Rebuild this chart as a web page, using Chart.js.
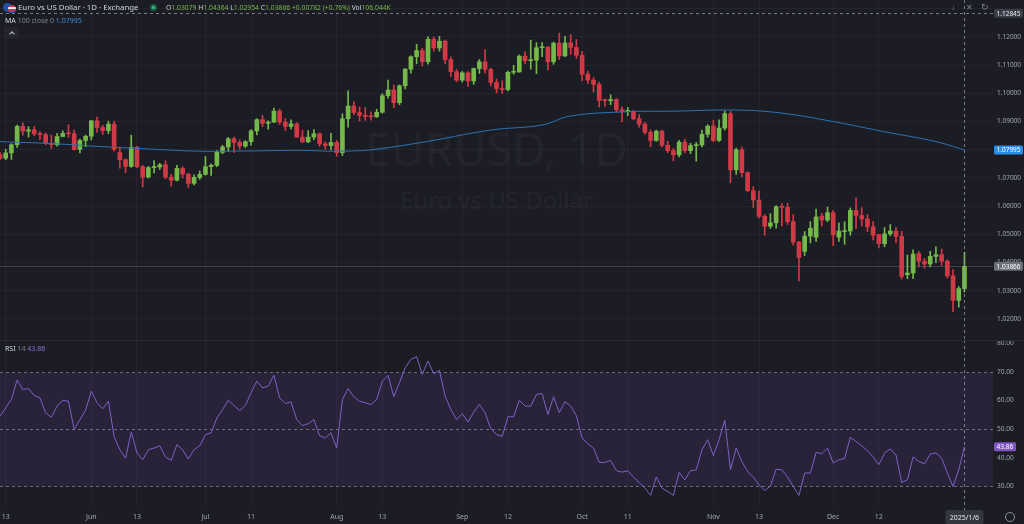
<!DOCTYPE html>
<html>
<head>
<meta charset="utf-8">
<script src="https://cdn.jsdelivr.net/npm/chart.js@4.4.1/dist/chart.umd.min.js"></script>
<style>
html, body { margin: 0; padding: 0; background: #1c1c25; overflow: hidden; }
#wrap { position: relative; width: 1024px; height: 524px; font-family: "Noto Sans", sans-serif; }
#priceBox { position: absolute; left: 0; top: 0; width: 1024px; height: 340px; }
#rsiBox { position: absolute; left: 0; top: 340px; width: 1024px; height: 184px; }
.wm { position: absolute; left: 0; width: 993px; text-align: center; color: rgba(255,255,255,0.055); white-space: nowrap; }
.hdr { position: absolute; white-space: nowrap; line-height: 1; }
.w { color: #d1d4dc; }
.g { color: #7f828c; }
.up { color: #74b94a; }
</style>
</head>
<body>
<div id="wrap">
    <div class="wm" style="top:117px;font-size:46px;">EURUSD, 1D</div>
    <div class="wm" style="top:183px;font-size:24px;">Euro vs US Dollar</div>
    <div id="priceBox"><canvas id="price"></canvas></div>
    <div id="rsiBox"><canvas id="rsi"></canvas></div>

    <!-- 헤더 -->
    <div class="hdr" style="left:3px;top:3px;width:9px;height:9px;border-radius:50%;background:#2350a8;"></div>
    <div class="hdr" style="left:8px;top:5px;width:8px;height:8px;border-radius:50%;background:linear-gradient(#c8364a 0 30%, #eee 30% 50%, #c8364a 50% 70%, #3b5cb0 70%);"></div>
    <div class="hdr w" style="left:18px;top:4px;font-size:7.8px;">Euro vs US Dollar · 1D · Exchange</div>
    <div class="hdr" style="left:150px;top:4px;width:7px;height:7px;border-radius:50%;background:#1f5e46;"></div>
    <div class="hdr" style="left:152px;top:6px;width:3px;height:3px;border-radius:50%;background:#3fc28f;"></div>
    <div class="hdr" style="left:166px;top:5px;font-size:6.8px;">
        <span class="w">O</span><span class="up">1.03079</span>
        <span class="w">H</span><span class="up">1.04364</span>
        <span class="w">L</span><span class="up">1.02954</span>
        <span class="w">C</span><span class="up">1.03866</span>
        <span class="up">+0.00782 (+0.76%)</span>
        <span class="w">Vol</span><span class="up">106.044K</span>
    </div>
    <div class="hdr" style="left:5px;top:17px;font-size:7px;">
        <span class="w">MA</span> <span class="g">100 close 0</span> <span style="color:#3b8fd8;">1.07995</span>
    </div>
    <div class="hdr" style="left:4px;top:27px;width:15px;height:12px;border-radius:2px;background:#24242e;"></div>
    <div class="hdr" style="left:10px;top:32px;width:3px;height:3px;border-left:1px solid #c0c3cc;border-top:1px solid #c0c3cc;transform:rotate(45deg);"></div>
    <div class="hdr" style="left:5px;top:345px;font-size:7px;">
        <span class="w">RSI</span> <span class="g">14</span> <span style="color:#8e72d6;">43.86</span>
    </div>
    <div class="hdr g" style="left:951px;top:3px;font-size:8px;">↓</div>
    <div class="hdr g" style="left:966px;top:3px;font-size:8px;">✕</div>
    <div class="hdr g" style="left:981px;top:2px;font-size:9px;">↻</div>
    <div class="hdr" style="left:1005px;top:512px;width:8px;height:8px;border-radius:50%;border:1px solid #8b8e98;"></div>
</div>

<script>
const dates = [
    '2024-05-10', '2024-05-13', '2024-05-14', '2024-05-15', '2024-05-16', '2024-05-17', '2024-05-20', '2024-05-21', '2024-05-22', '2024-05-23',
    '2024-05-24', '2024-05-27', '2024-05-28', '2024-05-29', '2024-05-30', '2024-05-31', '2024-06-03', '2024-06-04', '2024-06-05', '2024-06-06',
    '2024-06-07', '2024-06-10', '2024-06-11', '2024-06-12', '2024-06-13', '2024-06-14', '2024-06-17', '2024-06-18', '2024-06-19', '2024-06-20',
    '2024-06-21', '2024-06-24', '2024-06-25', '2024-06-26', '2024-06-27', '2024-06-28', '2024-07-01', '2024-07-02', '2024-07-03', '2024-07-04',
    '2024-07-05', '2024-07-08', '2024-07-09', '2024-07-10', '2024-07-11', '2024-07-12', '2024-07-15', '2024-07-16', '2024-07-17', '2024-07-18',
    '2024-07-19', '2024-07-22', '2024-07-23', '2024-07-24', '2024-07-25', '2024-07-26', '2024-07-29', '2024-07-30', '2024-07-31', '2024-08-01',
    '2024-08-02', '2024-08-05', '2024-08-06', '2024-08-07', '2024-08-08', '2024-08-09', '2024-08-12', '2024-08-13', '2024-08-14', '2024-08-15',
    '2024-08-16', '2024-08-19', '2024-08-20', '2024-08-21', '2024-08-22', '2024-08-23', '2024-08-26', '2024-08-27', '2024-08-28', '2024-08-29',
    '2024-08-30', '2024-09-02', '2024-09-03', '2024-09-04', '2024-09-05', '2024-09-06', '2024-09-09', '2024-09-10', '2024-09-11', '2024-09-12',
    '2024-09-13', '2024-09-16', '2024-09-17', '2024-09-18', '2024-09-19', '2024-09-20', '2024-09-23', '2024-09-24', '2024-09-25', '2024-09-26',
    '2024-09-27', '2024-09-30', '2024-10-01', '2024-10-02', '2024-10-03', '2024-10-04', '2024-10-07', '2024-10-08', '2024-10-09', '2024-10-10',
    '2024-10-11', '2024-10-14', '2024-10-15', '2024-10-16', '2024-10-17', '2024-10-18', '2024-10-21', '2024-10-22', '2024-10-23', '2024-10-24',
    '2024-10-25', '2024-10-28', '2024-10-29', '2024-10-30', '2024-10-31', '2024-11-01', '2024-11-04', '2024-11-05', '2024-11-06', '2024-11-07',
    '2024-11-08', '2024-11-11', '2024-11-12', '2024-11-13', '2024-11-14', '2024-11-15', '2024-11-18', '2024-11-19', '2024-11-20', '2024-11-21',
    '2024-11-22', '2024-11-25', '2024-11-26', '2024-11-27', '2024-11-28', '2024-11-29', '2024-12-02', '2024-12-03', '2024-12-04', '2024-12-05',
    '2024-12-06', '2024-12-09', '2024-12-10', '2024-12-11', '2024-12-12', '2024-12-13', '2024-12-16', '2024-12-17', '2024-12-18', '2024-12-19',
    '2024-12-20', '2024-12-23', '2024-12-24', '2024-12-26', '2024-12-27', '2024-12-30', '2024-12-31', '2025-01-02', '2025-01-03', '2025-01-06',
];

const opens = [
    1.0783, 1.0770, 1.0789, 1.0818, 1.0883, 1.0866, 1.0871, 1.0857, 1.0854, 1.0823,
    1.0818, 1.0847, 1.0858, 1.0857, 1.0801, 1.0833, 1.0848, 1.0903, 1.0879, 1.0868,
    1.0891, 1.0790, 1.0765, 1.0741, 1.0809, 1.0740, 1.0703, 1.0737, 1.0739, 1.0747,
    1.0703, 1.0692, 1.0734, 1.0714, 1.0681, 1.0702, 1.0713, 1.0740, 1.0745, 1.0791,
    1.0810, 1.0839, 1.0826, 1.0813, 1.0829, 1.0867, 1.0907, 1.0894, 1.0898, 1.0937,
    1.0898, 1.0883, 1.0892, 1.0845, 1.0828, 1.0845, 1.0857, 1.0821, 1.0815, 1.0826,
    1.0790, 1.0910, 1.0955, 1.0932, 1.0922, 1.0918, 1.0917, 1.0933, 1.0992, 1.1012,
    1.0967, 1.1027, 1.1086, 1.1130, 1.1152, 1.1112, 1.1192, 1.1161, 1.1185, 1.1120,
    1.1077, 1.1047, 1.1073, 1.1044, 1.1088, 1.1112, 1.1085, 1.1039, 1.1017, 1.1014,
    1.1075, 1.1076, 1.1132, 1.1116, 1.1118, 1.1162, 1.1164, 1.1112, 1.1178, 1.1133,
    1.1179, 1.1163, 1.1135, 1.1068, 1.1047, 1.1032, 1.0975, 1.0974, 1.0978, 1.0942,
    1.0936, 1.0937, 1.0910, 1.0891, 1.0862, 1.0833, 1.0866, 1.0816, 1.0797, 1.0782,
    1.0827, 1.0797, 1.0815, 1.0817, 1.0855, 1.0884, 1.0833, 1.0877, 1.0928, 1.0729,
    1.0800, 1.0719, 1.0655, 1.0622, 1.0564, 1.0529, 1.0541, 1.0598, 1.0596, 1.0545,
    1.0473, 1.0440, 1.0494, 1.0490, 1.0565, 1.0551, 1.0577, 1.0490, 1.0510, 1.0512,
    1.0585, 1.0567, 1.0555, 1.0527, 1.0500, 1.0467, 1.0502, 1.0512, 1.0493, 1.0357,
    1.0363, 1.0432, 1.0405, 1.0395, 1.0422, 1.0428, 1.0405, 1.0353, 1.0266, 1.03079,
];
const highs = [
    1.0791, 1.0802, 1.0822, 1.0888, 1.0895, 1.0882, 1.0883, 1.0865, 1.0860, 1.0852,
    1.0858, 1.0867, 1.0889, 1.0870, 1.0838, 1.0852, 1.0904, 1.0916, 1.0887, 1.0902,
    1.0902, 1.0810, 1.0768, 1.0852, 1.0812, 1.0745, 1.0741, 1.0762, 1.0752, 1.0761,
    1.0713, 1.0745, 1.0740, 1.0716, 1.0711, 1.0725, 1.0776, 1.0750, 1.0797, 1.0816,
    1.0844, 1.0845, 1.0835, 1.0832, 1.0872, 1.0910, 1.0922, 1.0903, 1.0948, 1.0944,
    1.0911, 1.0906, 1.0896, 1.0869, 1.0868, 1.0872, 1.0860, 1.0828, 1.0858, 1.0834,
    1.0928, 1.1009, 1.0970, 1.0952, 1.0950, 1.0935, 1.0944, 1.0999, 1.1047, 1.1030,
    1.1030, 1.1088, 1.1133, 1.1174, 1.1160, 1.1201, 1.1200, 1.1202, 1.1189, 1.1130,
    1.1085, 1.1078, 1.1077, 1.1090, 1.1120, 1.1155, 1.1090, 1.1051, 1.1045, 1.1079,
    1.1100, 1.1136, 1.1148, 1.1189, 1.1180, 1.1180, 1.1166, 1.1182, 1.1214, 1.1202,
    1.1209, 1.1191, 1.1149, 1.1079, 1.1056, 1.1040, 1.0980, 1.0995, 1.0982, 1.0952,
    1.0950, 1.0940, 1.0925, 1.0897, 1.0871, 1.0870, 1.0870, 1.0830, 1.0805, 1.0834,
    1.0838, 1.0823, 1.0826, 1.0870, 1.0889, 1.0905, 1.0906, 1.0937, 1.0936, 1.0806,
    1.0810, 1.0722, 1.0669, 1.0654, 1.0570, 1.0574, 1.0602, 1.0609, 1.0610, 1.0570,
    1.0475, 1.0510, 1.0545, 1.0590, 1.0575, 1.0597, 1.0585, 1.0540, 1.0545, 1.0594,
    1.0630, 1.0595, 1.0570, 1.0545, 1.0500, 1.0524, 1.0535, 1.0525, 1.0511, 1.0427,
    1.0445, 1.0440, 1.0415, 1.0440, 1.0456, 1.0448, 1.0410, 1.0375, 1.0315, 1.04364,
];
const lows = [
    1.0765, 1.0765, 1.0766, 1.0808, 1.0852, 1.0845, 1.0850, 1.0836, 1.0818, 1.0805,
    1.0813, 1.0846, 1.0844, 1.0799, 1.0789, 1.0811, 1.0835, 1.0862, 1.0855, 1.0857,
    1.0795, 1.0735, 1.0719, 1.0738, 1.0737, 1.0668, 1.0700, 1.0718, 1.0730, 1.0697,
    1.0671, 1.0690, 1.0700, 1.0666, 1.0675, 1.0695, 1.0710, 1.0709, 1.0740, 1.0786,
    1.0795, 1.0791, 1.0802, 1.0808, 1.0816, 1.0853, 1.0882, 1.0873, 1.0897, 1.0890,
    1.0868, 1.0874, 1.0844, 1.0825, 1.0825, 1.0836, 1.0812, 1.0802, 1.0800, 1.0777,
    1.0780, 1.0880, 1.0925, 1.0902, 1.0904, 1.0905, 1.0915, 1.0930, 1.0983, 1.0949,
    1.0960, 1.1016, 1.1072, 1.1105, 1.1097, 1.1104, 1.1150, 1.1150, 1.1105, 1.1060,
    1.1041, 1.1040, 1.1025, 1.1032, 1.1071, 1.1072, 1.1027, 1.1002, 1.1000, 1.1009,
    1.1068, 1.1075, 1.1105, 1.1086, 1.1070, 1.1130, 1.1083, 1.1103, 1.1120, 1.1130,
    1.1138, 1.1124, 1.1045, 1.1035, 1.1005, 1.0952, 1.0955, 1.0960, 1.0935, 1.0899,
    1.0921, 1.0907, 1.0880, 1.0855, 1.0811, 1.0830, 1.0810, 1.0790, 1.0761, 1.0775,
    1.0789, 1.0786, 1.0760, 1.0810, 1.0845, 1.0829, 1.0830, 1.0870, 1.0683, 1.0713,
    1.0705, 1.0652, 1.0595, 1.0558, 1.0497, 1.0521, 1.0522, 1.0530, 1.0535, 1.0462,
    1.0335, 1.0425, 1.0470, 1.0475, 1.0530, 1.0545, 1.0460, 1.0475, 1.0465, 1.0497,
    1.0520, 1.0530, 1.0510, 1.0480, 1.0452, 1.0456, 1.0495, 1.0470, 1.0342, 1.0343,
    1.0343, 1.0385, 1.0380, 1.0385, 1.0400, 1.0390, 1.0345, 1.0226, 1.0242, 1.02954,
];
const closes = [
    1.0770, 1.0789, 1.0818, 1.0883, 1.0866, 1.0871, 1.0857, 1.0854, 1.0823, 1.0818,
    1.0847, 1.0858, 1.0857, 1.0801, 1.0833, 1.0848, 1.0903, 1.0879, 1.0868, 1.0891,
    1.0802, 1.0765, 1.0741, 1.0809, 1.0740, 1.0703, 1.0737, 1.0739, 1.0747, 1.0703,
    1.0692, 1.0734, 1.0714, 1.0681, 1.0702, 1.0713, 1.0740, 1.0745, 1.0791, 1.0810,
    1.0839, 1.0826, 1.0813, 1.0829, 1.0867, 1.0907, 1.0894, 1.0898, 1.0937, 1.0898,
    1.0883, 1.0892, 1.0845, 1.0828, 1.0845, 1.0857, 1.0821, 1.0815, 1.0826, 1.0790,
    1.0910, 1.0955, 1.0932, 1.0922, 1.0918, 1.0917, 1.0933, 1.0992, 1.1012, 1.0967,
    1.1027, 1.1086, 1.1130, 1.1152, 1.1112, 1.1192, 1.1161, 1.1185, 1.1120, 1.1077,
    1.1047, 1.1073, 1.1044, 1.1088, 1.1112, 1.1085, 1.1039, 1.1017, 1.1014, 1.1075,
    1.1076, 1.1132, 1.1116, 1.1118, 1.1162, 1.1164, 1.1112, 1.1178, 1.1133, 1.1179,
    1.1163, 1.1135, 1.1068, 1.1047, 1.1032, 1.0975, 1.0974, 1.0978, 1.0942, 1.0936,
    1.0937, 1.0910, 1.0891, 1.0862, 1.0833, 1.0866, 1.0816, 1.0797, 1.0782, 1.0827,
    1.0797, 1.0815, 1.0817, 1.0855, 1.0884, 1.0833, 1.0877, 1.0928, 1.0729, 1.0800,
    1.0719, 1.0655, 1.0622, 1.0564, 1.0529, 1.0541, 1.0598, 1.0596, 1.0545, 1.0473,
    1.0418, 1.0494, 1.0522, 1.0562, 1.0551, 1.0577, 1.0498, 1.0512, 1.0512, 1.0585,
    1.0567, 1.0555, 1.0527, 1.0497, 1.0467, 1.0502, 1.0512, 1.0493, 1.0351, 1.0363,
    1.0430, 1.0405, 1.0395, 1.0422, 1.0428, 1.0405, 1.0353, 1.0266, 1.0308, 1.03866,
];

// 이동평균선: 그림에서 읽은 지점만 (나머지는 라이브러리가 이어 그림)
const maIndex = [0, 9, 18, 26, 35, 44, 53, 58, 63, 66, 75, 86, 95, 100, 110, 118, 129, 137, 146, 155, 164, 169];
const maValue = [1.0829, 1.0822, 1.0811, 1.0803, 1.0795, 1.0796, 1.0798, 1.0795, 1.0797, 1.0802, 1.0830, 1.0870,
                 1.0888, 1.0920, 1.0935, 1.0937, 1.0941, 1.0930, 1.0900, 1.0864, 1.0829, 1.07995];

const rsi14 = [
    54.5, 57.4, 60.3, 67.1, 63.8, 64.1, 61.7, 60.9, 55.7, 54.1,
    58.0, 60.0, 59.7, 49.8, 53.3, 56.6, 63.2, 59.2, 57.1, 59.7,
    47.3, 42.8, 39.9, 49.0, 41.7, 39.3, 42.8, 43.4, 44.2, 40.3,
    39.1, 44.6, 42.8, 39.6, 42.8, 44.2, 48.1, 48.7, 53.9, 56.8,
    60.1, 58.2, 56.5, 58.2, 62.7, 66.7, 64.4, 65.0, 68.8, 60.9,
    58.9, 59.5, 53.3, 51.2, 51.9, 53.3, 47.7, 46.9, 48.7, 43.4,
    60.3, 64.1, 61.3, 59.7, 59.2, 58.5, 60.3, 66.7, 68.7, 61.3,
    66.2, 71.4, 74.3, 75.2, 69.1, 73.7, 69.3, 70.5, 61.5, 56.8,
    53.3, 55.4, 52.4, 55.9, 58.6, 55.7, 50.1, 48.1, 47.5, 54.3,
    54.3, 60.1, 58.0, 58.0, 62.1, 62.4, 55.1, 61.3, 55.7, 59.6,
    58.0, 54.7, 46.9, 44.9, 43.4, 38.4, 38.4, 39.1, 35.5, 35.0,
    35.5, 33.3, 31.4, 29.4, 26.9, 33.3, 29.4, 28.3, 26.9, 34.9,
    32.3, 35.5, 35.8, 42.8, 46.3, 40.8, 46.3, 53.1, 35.8, 43.4,
    38.7, 35.2, 33.3, 30.6, 28.6, 30.2, 36.0, 35.8, 33.3, 30.0,
    26.9, 34.7, 34.7, 41.9, 41.4, 43.4, 38.2, 39.3, 39.8, 47.1,
    45.7, 44.2, 42.5, 40.3, 37.6, 41.7, 43.1, 41.0, 31.4, 32.3,
    40.3, 38.7, 37.9, 41.3, 41.7, 39.9, 34.7, 30.0, 35.8, 43.86,
];

const tickDates = ['2024-05-13', '2024-06-03', '2024-06-13', '2024-07-01', '2024-07-11', '2024-08-01', '2024-08-13', '2024-09-02',
                   '2024-09-12', '2024-10-01', '2024-10-11', '2024-11-01', '2024-11-13', '2024-12-02', '2024-12-12'];
const tickText = ['13', 'Jun', '13', 'Jul', '11', 'Aug', '13', 'Sep', '12', 'Oct', '11', 'Nov', '13', 'Dec', '12'];

const crossIndex = 169, crossPrice = 1.12845, crossLabel = '2025/1/6';

const
    UP = '#74b94a',
    DOWN = '#d03a46',
    AXIS_TEXT = '#a4a7b0',
    GRID = 'rgba(255,255,255,0.035)',
    FONT = '"Noto Sans", sans-serif',
    PAD_SLOTS = 5,
    AXIS_W = 31;

Chart.defaults.font.family = FONT;
Chart.defaults.color = AXIS_TEXT;
Chart.defaults.animation = false;

const labels = dates.concat(Array(PAD_SLOTS).fill(''));
const tickPos = new Map(tickDates.map((d, k) => [dates.indexOf(d), tickText[k]]));
const maSeries = dates.map(() => null);
maIndex.forEach((idx, k) => { maSeries[idx] = maValue[k]; });
const candleColor = closes.map((c, i) => c >= opens[i] ? UP : DOWN);

// 축 라벨 때문에 생기는 여백을 없애서 두 패널의 x 위치를 맞춤
function noPadding(s) {
    s.paddingTop = 0;
    s.paddingBottom = 0;
    s.paddingLeft = 0;
    s.paddingRight = 0;
}
function tag(ctx, x, yc, w, h, bg, fg, text) {
    ctx.fillStyle = bg;
    ctx.beginPath();
    ctx.roundRect(x, yc - h / 2, w, h, 1.5);
    ctx.fill();
    ctx.fillStyle = fg;
    ctx.textBaseline = 'middle';
    ctx.textAlign = 'left';
    ctx.font = '6.5px ' + FONT;
    ctx.fillText(text, x + 2.5, yc + 0.5);
}
function dashedLine(ctx, x1, y1, x2, y2, color, dash) {
    ctx.save();
    ctx.strokeStyle = color;
    ctx.lineWidth = 1;
    ctx.setLineDash(dash);
    ctx.beginPath();
    ctx.moveTo(x1, y1);
    ctx.lineTo(x2, y2);
    ctx.stroke();
    ctx.restore();
}
function xAxis(showLabels) {
    return {
        type: 'category',
        offset: false,
        grid: {
            offset: false,
            drawTicks: false,
            color: c => tickPos.has(c.index) ? GRID : 'transparent',
        },
        border: { display: false },
        ticks: {
            display: showLabels,
            autoSkip: false,
            maxRotation: 0,
            minRotation: 0,
            padding: 7,
            font: { size: 7 },
            color: AXIS_TEXT,
            callback: (v, i) => tickPos.get(i) || '',
        },
        afterFit: s => {
            s.height = showLabels ? 18 : 0;
            noPadding(s);
        },
    };
}
function yAxis(min, max, step, fmt, showGrid) {
    return {
        position: 'right',
        min,
        max,
        grid: { display: showGrid, color: GRID, drawTicks: false },
        border: { display: false },
        ticks: {
            stepSize: step,
            includeBounds: false,
            padding: 4,
            font: { size: 6.5 },
            color: AXIS_TEXT,
            callback: fmt,
        },
        afterFit: s => {
            s.width = AXIS_W;
            noPadding(s);
        },
    };
}

const priceOverlay = {
    id: 'priceOverlay',
    beforeDatasetsDraw(chart) {
        const { ctx, chartArea: a, scales: { y } } = chart;
        const py = Math.round(y.getPixelForValue(closes[closes.length - 1])) + 0.5;
        dashedLine(ctx, a.left, py, a.right, py, 'rgba(120,123,134,0.4)', []);
    },
    afterDatasetsDraw(chart) {
        const { ctx, chartArea: a, scales: { x, y } } = chart;
        const cx = Math.round(x.getPixelForValue(crossIndex)) + 0.5;
        const cy = Math.round(y.getPixelForValue(crossPrice)) + 0.5;
        dashedLine(ctx, cx, 0, cx, chart.height, 'rgba(150,152,161,0.75)', [3, 3]);
        dashedLine(ctx, a.left, cy, a.right, cy, 'rgba(150,152,161,0.75)', [3, 3]);
    },
    afterDraw(chart) {
        const { ctx, chartArea: a, scales: { y } } = chart;
        const x0 = a.right + 1;
        ctx.save();
        tag(ctx, x0, y.getPixelForValue(crossPrice), 29, 9, '#3a3d47', '#e6e8ee', crossPrice.toFixed(5));
        tag(ctx, x0, y.getPixelForValue(maValue[maValue.length - 1]), 29, 9, '#2a8ee6', '#ffffff', maValue[maValue.length - 1].toFixed(5));
        tag(ctx, x0, y.getPixelForValue(closes[closes.length - 1]), 29, 9, '#6d707a', '#ffffff', closes[closes.length - 1].toFixed(5));
        ctx.restore();
    },
};

const rsiOverlay = {
    id: 'rsiOverlay',
    beforeDatasetsDraw(chart) {
        const { ctx, chartArea: a, scales: { y } } = chart;
        const y70 = Math.round(y.getPixelForValue(70)) + 0.5,
              y50 = Math.round(y.getPixelForValue(50)) + 0.5,
              y30 = Math.round(y.getPixelForValue(30)) + 0.5;
        ctx.save();
        ctx.fillStyle = 'rgba(126,87,194,0.13)';
        ctx.fillRect(a.left, y70, a.right - a.left, y30 - y70);
        ctx.restore();
        [y70, y50, y30].forEach(py => dashedLine(ctx, a.left, py, a.right, py, 'rgba(140,143,154,0.7)', [3, 3]));
    },
    afterDatasetsDraw(chart) {
        const { ctx, scales: { x } } = chart;
        const cx = Math.round(x.getPixelForValue(crossIndex)) + 0.5;
        dashedLine(ctx, cx, 0, cx, chart.height - 14, 'rgba(150,152,161,0.75)', [3, 3]);
    },
    afterDraw(chart) {
        const { ctx, chartArea: a, scales: { x, y } } = chart;
        ctx.save();
        ctx.fillStyle = '#2a2a34';
        ctx.fillRect(0, 0, chart.width, 1);
        tag(ctx, a.right + 1, y.getPixelForValue(rsi14[rsi14.length - 1]), 22, 9, '#7e57c2', '#ffffff', rsi14[rsi14.length - 1].toFixed(2));
        const cx = x.getPixelForValue(crossIndex);
        ctx.fillStyle = '#34363f';
        ctx.beginPath();
        ctx.roundRect(cx - 19, a.bottom + 4, 38, 14, 2);
        ctx.fill();
        ctx.fillStyle = '#e6e8ee';
        ctx.font = '7px ' + FONT;
        ctx.textAlign = 'center';
        ctx.textBaseline = 'middle';
        ctx.fillText(crossLabel, cx, a.bottom + 11.5);
        ctx.restore();
    },
};

new Chart(document.getElementById('price'), {
    type: 'bar',
    data: {
        labels,
        datasets: [
            {
                type: 'line',
                data: maSeries,
                borderColor: '#2d73b3',
                borderWidth: 1,
                pointRadius: 0,
                spanGaps: true,
                tension: 0.4,
                order: 0,
            },
            {
                data: opens.map((o, i) => [o, closes[i]]),
                backgroundColor: candleColor,
                barThickness: 4,
                minBarLength: 1,
                grouped: false,
                order: 1,
            },
            {
                data: lows.map((l, i) => [l, highs[i]]),
                backgroundColor: candleColor,
                barThickness: 1,
                grouped: false,
                order: 2,
            },
        ],
    },
    options: {
        responsive: true,
        maintainAspectRatio: false,
        layout: { padding: 0 },
        plugins: { legend: { display: false }, tooltip: { enabled: false } },
        scales: {
            x: xAxis(false),
            y: yAxis(1.01255, 1.13312, 0.01, v => v > 1.125 ? '' : v.toFixed(5), true),
        },
    },
    plugins: [priceOverlay],
});

new Chart(document.getElementById('rsi'), {
    type: 'line',
    data: {
        labels,
        datasets: [{
            data: rsi14,
            borderColor: '#7e62c8',
            borderWidth: 1,
            pointRadius: 0,
            tension: 0,
        }],
    },
    options: {
        responsive: true,
        maintainAspectRatio: false,
        layout: { padding: 0 },
        plugins: { legend: { display: false }, tooltip: { enabled: false } },
        scales: {
            x: xAxis(true),
            y: yAxis(23.2, 81.05, 10, v => v.toFixed(2), false),
        },
    },
    plugins: [rsiOverlay],
});
</script>
</body>
</html>
